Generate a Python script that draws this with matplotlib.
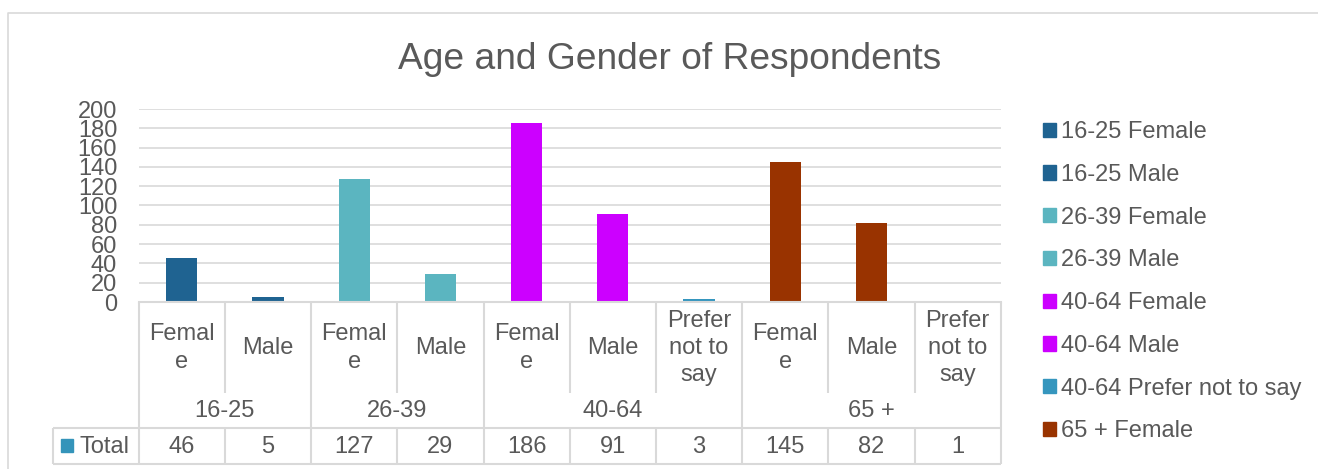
import matplotlib
matplotlib.use("Agg")
import matplotlib.pyplot as plt
from matplotlib.patches import Rectangle
from matplotlib.lines import Line2D

plt.rcParams["font.family"] = ["Liberation Sans", "DejaVu Sans"]

# ---- data -------------------------------------------------------------
age_groups = ["16-25", "26-39", "40-64", "65 +"]
group_sizes = [2, 2, 3, 3]
genders = ["Female", "Male", "Female", "Male", "Female", "Male",
           "Prefer not to say", "Female", "Male", "Prefer not to say"]
gender_cell_text = {"Female": "Femal\ne", "Male": "Male",
                    "Prefer not to say": "Prefer\nnot to\nsay"}
totals = [46, 5, 127, 29, 186, 91, 3, 145, 82, 1]
bar_colors = ["#1F6391", "#1F6391", "#5BB5C0", "#5BB5C0", "#CC00FF",
              "#CC00FF", "#3596BE", "#993300", "#993300", "#4FA3C7"]
legend_count = 8
yticks = list(range(0, 201, 20))

TEXT = "#595959"
GRID = "#D9D9D9"
FS = 17

W, H = 1318, 469
fig = plt.figure(figsize=(W / 100, H / 100), dpi=100)


def fx(px):
    return px / W


def fy(py):
    return 1 - py / H


# chart frame (left and top edges)
fig.add_artist(Line2D([fx(8), fx(8), fx(W)], [fy(H), fy(13), fy(13)],
                      color=GRID, lw=1.2, transform=fig.transFigure))

# ---- bar plot ---------------------------------------------------------
left, right, top, bottom = 138.7, 1000.7, 109, 302
ax = fig.add_axes([fx(left), fy(bottom), fx(right - left), (bottom - top) / H])
n = len(totals)
xs = list(range(n))
ax.bar(xs, totals, width=0.36, color=bar_colors, zorder=2)
ax.set_xlim(-0.5, n - 0.5)
ax.set_ylim(0, 200)
ax.set_yticks(yticks)
ax.set_xticks([])
ax.tick_params(axis="y", length=0, pad=15.5, labelsize=FS, labelcolor=TEXT)
ax.grid(axis="y", color=GRID, lw=1.2, zorder=0)
for s in ("left", "right", "top"):
    ax.spines[s].set_visible(False)
ax.spines["bottom"].set_color(GRID)
ax.spines["bottom"].set_linewidth(1.5)
ax.spines["bottom"].set_zorder(3)

fig.text(fx(669.5), fy(69), "Age and Gender of Respondents", fontsize=26.7,
         color=TEXT, ha="center", va="baseline")

# ---- data table under the axis ---------------------------------------
tab_left, tab_bottom = 53, 464
col_w = (right - left) / n
tax = fig.add_axes([fx(tab_left), fy(tab_bottom), fx(right - tab_left),
                    (tab_bottom - bottom) / H])
x0 = -0.5 - (left - tab_left) / col_w
tax.set_xlim(x0, n - 0.5)
tax.set_ylim(tab_bottom, bottom)
tax.axis("off")

y_gender_end, y_age_end, y_end = 393, 428, 464
lk = dict(color=GRID, lw=1.5, solid_capstyle="butt", clip_on=False)

# group boundaries
bounds = [-0.5]
for g in group_sizes:
    bounds.append(bounds[-1] + g)
for b in bounds:
    tax.plot([b, b], [bottom, y_end], **lk)
# inner gender separators
group_of = []
for gi, g in enumerate(group_sizes):
    group_of += [gi] * g
for i in range(n - 1):
    if group_of[i] == group_of[i + 1]:
        xb = i + 0.5
        tax.plot([xb, xb], [bottom, y_gender_end], **lk)
        tax.plot([xb, xb], [y_age_end, y_end], **lk)
tax.plot([x0, n - 0.5], [y_age_end, y_age_end], **lk)
tax.plot([x0, n - 0.5], [y_end, y_end], **lk)
tax.plot([x0, x0], [y_age_end, y_end], **lk)

for i, g in enumerate(genders):
    tax.text(i, 348, gender_cell_text[g], ha="center", va="center",
             fontsize=FS, color=TEXT, linespacing=1.3)
for gi, name in enumerate(age_groups):
    cx = (bounds[gi] + bounds[gi + 1]) / 2
    tax.text(cx, 411, name, ha="center", va="center", fontsize=FS, color=TEXT)
for i, v in enumerate(totals):
    tax.text(i, 447, str(v), ha="center", va="center", fontsize=FS, color=TEXT)

# series key in the table row
fig.add_artist(Rectangle((fx(61), fy(452)), fx(12), 13 / H, color="#3494BA",
                         transform=fig.transFigure))
fig.text(fx(79), fy(447), "Total", ha="left", va="center", fontsize=FS,
         color=TEXT)

# ---- legend -----------------------------------------------------------
handles = [Rectangle((0, 0), 1, 1, color=bar_colors[i]) for i in range(legend_count)]
labels = [f"{age} {g}" for age, g in
          zip([age_groups[k] for k in group_of], genders)][:legend_count]
fig.legend(handles, labels, loc="upper left",
           bbox_to_anchor=(fx(1043), fy(121)), frameon=False, fontsize=FS,
           handlelength=0.55, handleheight=0.55, handletextpad=0.22,
           labelspacing=0.88, borderpad=0, borderaxespad=0,
           labelcolor=TEXT)

fig.savefig("out.png", dpi=100)
